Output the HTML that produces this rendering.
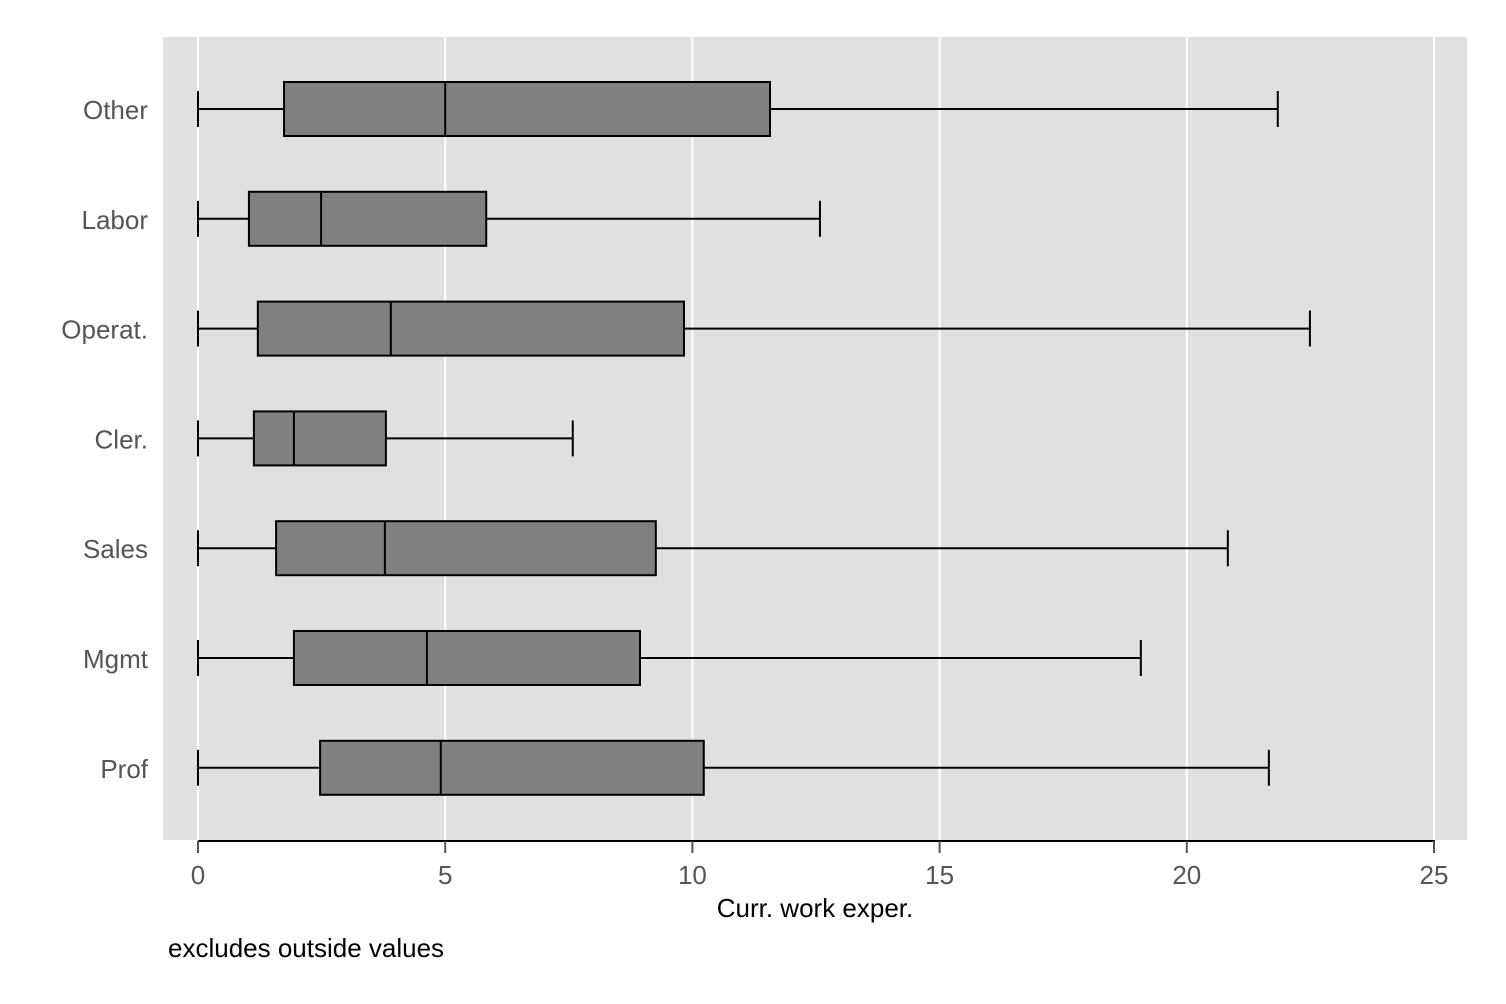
<!DOCTYPE html>
<html><head><meta charset="utf-8"><style>
html,body{margin:0;padding:0;background:#fff;}
svg{display:block;font-family:"Liberation Sans",sans-serif;}
</style></head><body>
<svg id="chart" width="1506" height="1004" xmlns="http://www.w3.org/2000/svg"></svg>
<script>
const categories = ["Other","Labor","Operat.","Cler.","Sales","Mgmt","Prof"];
const whiskerLow = [0,0,0,0,0,0,0];
const q1Values = [1.74,1.03,1.21,1.13,1.58,1.94,2.47];
const medianValues = [5.0,2.49,3.9,1.94,3.78,4.63,4.91];
const q3Values = [11.57,5.83,9.83,3.8,9.26,8.94,10.23];
const whiskerHigh = [21.84,12.58,22.49,7.58,20.83,19.07,21.66];
const xTicks = [0,5,10,15,20,25];

const svg = document.getElementById('chart');
const NS = 'http://www.w3.org/2000/svg';
const x0 = 198, x1 = 1434, xMin = 0, xMax = 25;
const xs = v => x0 + (v - xMin) / (xMax - xMin) * (x1 - x0);
const rowTop = 37, rowStep = 109.8, rowOffset = 72;
const ys = i => rowTop + rowOffset + i * rowStep;
function mk(tag, attrs, parent){ const e = document.createElementNS(NS, tag); for (const k in attrs) e.setAttribute(k, attrs[k]); (parent||svg).appendChild(e); return e; }

const bg = mk('rect',{x:163,y:37,width:1304,height:803,fill:'#e0e0e0'});



xTicks.forEach(t => {
  const g = mk('line',{x1:xs(t),x2:xs(t),y1:37,y2:840,stroke:'#fff','stroke-width':2});
  
  
});

const axis = mk('line',{x1:xs(0),x2:xs(25)+1,y1:841,y2:841,stroke:'#000','stroke-width':2});


xTicks.forEach(t => {
  const tk = mk('line',{x1:xs(t),x2:xs(t),y1:841,y2:853,stroke:'#555','stroke-width':2});
  
  
  const lb = mk('text',{x:xs(t),y:884,'text-anchor':'middle','font-size':26,fill:'#555'});
  lb.textContent = t;
  
  
});

categories.forEach((c,i) => {
  const y = ys(i), h = 54;
  const g = mk('g',{});
  
  
  mk('line',{x1:xs(whiskerLow[i]),x2:xs(q1Values[i]),y1:y,y2:y,stroke:'#000','stroke-width':2},g);
  mk('line',{x1:xs(q3Values[i]),x2:xs(whiskerHigh[i]),y1:y,y2:y,stroke:'#000','stroke-width':2},g);
  mk('line',{x1:xs(whiskerLow[i]),x2:xs(whiskerLow[i]),y1:y-18,y2:y+18,stroke:'#000','stroke-width':2},g);
  mk('line',{x1:xs(whiskerHigh[i]),x2:xs(whiskerHigh[i]),y1:y-18,y2:y+18,stroke:'#000','stroke-width':2},g);
  mk('rect',{x:xs(q1Values[i]),y:y-h/2,width:xs(q3Values[i])-xs(q1Values[i]),height:h,fill:'#808080',stroke:'#000','stroke-width':2},g);
  mk('line',{x1:xs(medianValues[i]),x2:xs(medianValues[i]),y1:y-h/2,y2:y+h/2,stroke:'#000','stroke-width':2},g);
  const lb = mk('text',{x:148,y:y+10,'text-anchor':'end','font-size':26,fill:'#555'});
  lb.textContent = c;
  
  
});

const xt = mk('text',{x:815,y:917,'text-anchor':'middle','font-size':26,fill:'#000'});
xt.textContent = 'Curr. work exper.';


const note = mk('text',{x:168,y:957,'font-size':26,fill:'#000'});
note.textContent = 'excludes outside values';


</script>
</body></html>
